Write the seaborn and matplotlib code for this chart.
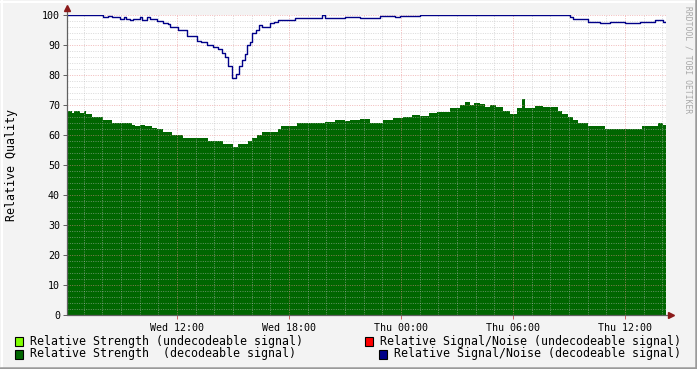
import numpy as np
import pandas as pd
import matplotlib
matplotlib.use("Agg")
import matplotlib.pyplot as plt
import seaborn as sns
from matplotlib.patches import Rectangle
from matplotlib.lines import Line2D

# ---------------- data (hours since Wed 00:00) ----------------
strength_hours = [6.11, 6.37, 6.48, 6.80, 7.02, 7.12, 7.45, 8.04, 8.52, 9.59, 9.75, 10.02,
                  10.29, 10.66, 10.93, 11.25, 11.73, 12.32, 13.66, 14.46, 15.00, 15.27,
                  15.80, 16.02, 16.29, 16.55, 17.41, 17.57, 18.43, 19.93, 20.46, 21.00,
                  21.27, 21.80, 22.34, 23.04, 23.60, 24.11, 24.60, 25.02, 25.50, 25.93,
                  26.63, 27.16, 27.43, 27.70, 27.90, 28.23, 28.50, 28.77, 29.10, 29.46,
                  29.84, 30.21, 30.48, 30.64, 31.20, 31.60, 32.09, 32.41, 32.62, 32.94,
                  33.21, 33.48, 34.02, 34.93, 36.91, 37.77, 38.04]
strength_vals = [68, 67.5, 68, 67.5, 68, 67, 66, 65, 64, 63.5, 63, 63.5,
                 63, 62.5, 62, 61, 60, 59, 58, 57, 56, 57,
                 58, 59, 60, 61, 62, 63, 64, 64.5, 65, 64.7,
                 65, 65.5, 64, 65, 65.7, 66, 66.7, 66.5, 67.3, 67.8,
                 69, 70, 71, 70, 70.7, 70.5, 69.5, 70, 69.3, 68,
                 67, 69, 72, 69, 69.7, 69.3, 69.5, 68, 67, 66,
                 65, 64, 63, 62, 63, 64, 63.5]

snr_hours = [6.11, 8.04, 8.30, 8.52, 8.95, 9.16, 9.27, 9.48, 9.64, 10.02, 10.12, 10.39,
             10.55, 10.93, 11.25, 11.52, 11.63, 12.05, 12.54, 13.07, 13.29, 13.61, 13.93,
             14.20, 14.41, 14.57, 14.73, 14.95, 15.16, 15.32, 15.48, 15.64, 15.75, 15.91,
             16.02, 16.23, 16.39, 16.55, 16.98, 17.20, 17.41, 18.32, 19.77, 19.93, 21.00,
             21.80, 22.87, 23.68, 23.95, 25.02, 33.05, 33.21, 34.02, 34.66, 35.19, 36.00,
             36.80, 37.61, 37.88, 38.04]
snr_vals = [100, 99.5, 99.7, 99.2, 98.7, 99.3, 98.7, 98.2, 98.7, 99.3, 98.5, 99.2,
            98.7, 98, 97.5, 97, 96, 95, 93, 91.5, 91, 90, 89.5,
            88.7, 87.5, 86, 83, 79, 80.5, 83, 85, 87, 90, 91,
            94, 95, 96.7, 96, 97.2, 97.8, 98.5, 99, 100, 99, 99.5,
            99, 99.7, 99.2, 99.8, 100, 99.5, 98.8, 97.7, 97.3, 97.7, 97.2,
            97.6, 98.2, 98.5, 97.8]

x_start, x_end = 6.107, 38.2
x_tick_hours = [12, 18, 24, 30, 36]
x_tick_labels = ["Wed 12:00", "Wed 18:00", "Thu 00:00", "Thu 06:00", "Thu 12:00"]
y_ticks = [0, 10, 20, 30, 40, 50, 60, 70, 80, 90, 100]

legend_labels = ["Relative Strength (undecodeable signal)",
                 "Relative Strength  (decodeable signal)",
                 "Relative Signal/Noise (undecodeable signal)",
                 "Relative Signal/Noise (decodeable signal)"]
legend_colors = ["#80ff00", "#006600", "#ff0000", "#000088"]

# ---------------- style ----------------
sns.set_theme(style="white")
plt.rcParams["font.family"] = ["DejaVu Sans Mono"]

W, H = 697, 369
fig = plt.figure(figsize=(W / 100, H / 100), dpi=100, facecolor="#f3f3f3")
ax = fig.add_axes([67 / W, 1 - 315 / H, 599 / W, 300 / H])
ax.set_facecolor("white")

sh = np.array(strength_hours + [x_end])
sv = np.array(strength_vals + [strength_vals[-1]])
ax.fill_between(sh, 0, sv, step="post", color="#006600", lw=0, zorder=1)

nh = snr_hours + [x_end]
nv = snr_vals + [snr_vals[-1]]
df = pd.DataFrame({"hour": nh, "snr": nv})
sns.lineplot(data=df, x="hour", y="snr", drawstyle="steps-post", color="#000088",
             lw=1.0, ax=ax, estimator=None, sort=False, zorder=3)

ax.set_xlim(x_start, x_end)
ax.set_ylim(0, 100)

# grid
dash = (0, (1, 1.4))
for h in range(7, 39):
    if h in x_tick_hours:
        continue
    ax.axvline(h, color="#bbbbbb", lw=0.7, ls=dash, alpha=0.55, zorder=2)
for y in range(2, 101, 2):
    if y % 10 == 0:
        continue
    ax.axhline(y, color="#bbbbbb", lw=0.7, ls=dash, alpha=0.55, zorder=2)
for h in x_tick_hours:
    ax.axvline(h, color="#e88a8a", lw=0.7, ls=dash, alpha=0.6, zorder=2)
for y in range(10, 101, 10):
    ax.axhline(y, color="#e88a8a", lw=0.7, ls=dash, alpha=0.6, zorder=2)

for s in ax.spines.values():
    s.set_visible(False)

# axis lines with arrows
ax.plot([x_start, x_start], [0, 102.5], color="#606060", lw=0.9, clip_on=False, zorder=4)
ax.plot([x_start, x_end + 0.25], [0, 0], color="#606060", lw=0.9, clip_on=False, zorder=4)
ax.plot([x_start], [102.3], marker="^", ms=4, color="#8b1a1a", clip_on=False, zorder=5)
ax.plot([x_end + 0.25], [0], marker=">", ms=4, color="#8b1a1a", clip_on=False, zorder=5)

ax.set_xticks(x_tick_hours)
ax.set_xticklabels(x_tick_labels)
ax.set_yticks(y_ticks)
ax.set_yticklabels([str(v) for v in y_ticks])
ax.tick_params(axis="x", length=3, width=0.7, color="#cc6666", pad=3, labelsize=7.2,
               labelcolor="#000000", bottom=True)
ax.tick_params(axis="y", length=3, width=0.7, color="#606060", pad=2, labelsize=7.2,
               labelcolor="#000000", left=True)
ax.set_xlabel("")
ax.set_ylabel("")

fig.text(12 / W, 1 - 165 / H, "Relative Quality", rotation=90, ha="center", va="center",
         fontsize=8.4, color="#000000")
fig.text(688 / W, 1 - 60 / H, "RRDTOOL / TOBI OETIKER", rotation=270, ha="center",
         va="center", fontsize=5.8, color="#a8a8a8")

# legend
def legend_item(xsq, ycen, color, label):
    fig.patches.append(Rectangle((xsq / W, 1 - (ycen + 4.5) / H), 8 / W, 9 / H,
                                 transform=fig.transFigure, facecolor=color,
                                 edgecolor="#000000", lw=0.8))
    fig.text((xsq + 15) / W, 1 - ycen / H, label, ha="left", va="center",
             fontsize=8.4, color="#000000")

legend_item(15, 341, legend_colors[0], legend_labels[0])
legend_item(15, 354, legend_colors[1], legend_labels[1])
legend_item(365, 341, legend_colors[2], legend_labels[2])
legend_item(379, 354, legend_colors[3], legend_labels[3])

# frame
fig.add_artist(Line2D([0, 1], [1 - 1.5 / H, 1 - 1.5 / H], transform=fig.transFigure,
                      color="#ffffff", lw=1.5))
fig.add_artist(Line2D([1.5 / W, 1.5 / W], [0, 1], transform=fig.transFigure,
                      color="#ffffff", lw=1.5))
fig.add_artist(Line2D([0, 1], [1.2 / H, 1.2 / H], transform=fig.transFigure,
                      color="#9a9a9a", lw=1.8))
fig.add_artist(Line2D([1 - 1.2 / W, 1 - 1.2 / W], [0, 1], transform=fig.transFigure,
                      color="#9a9a9a", lw=1.8))

fig.savefig("out.png", dpi=100, facecolor=fig.get_facecolor())
